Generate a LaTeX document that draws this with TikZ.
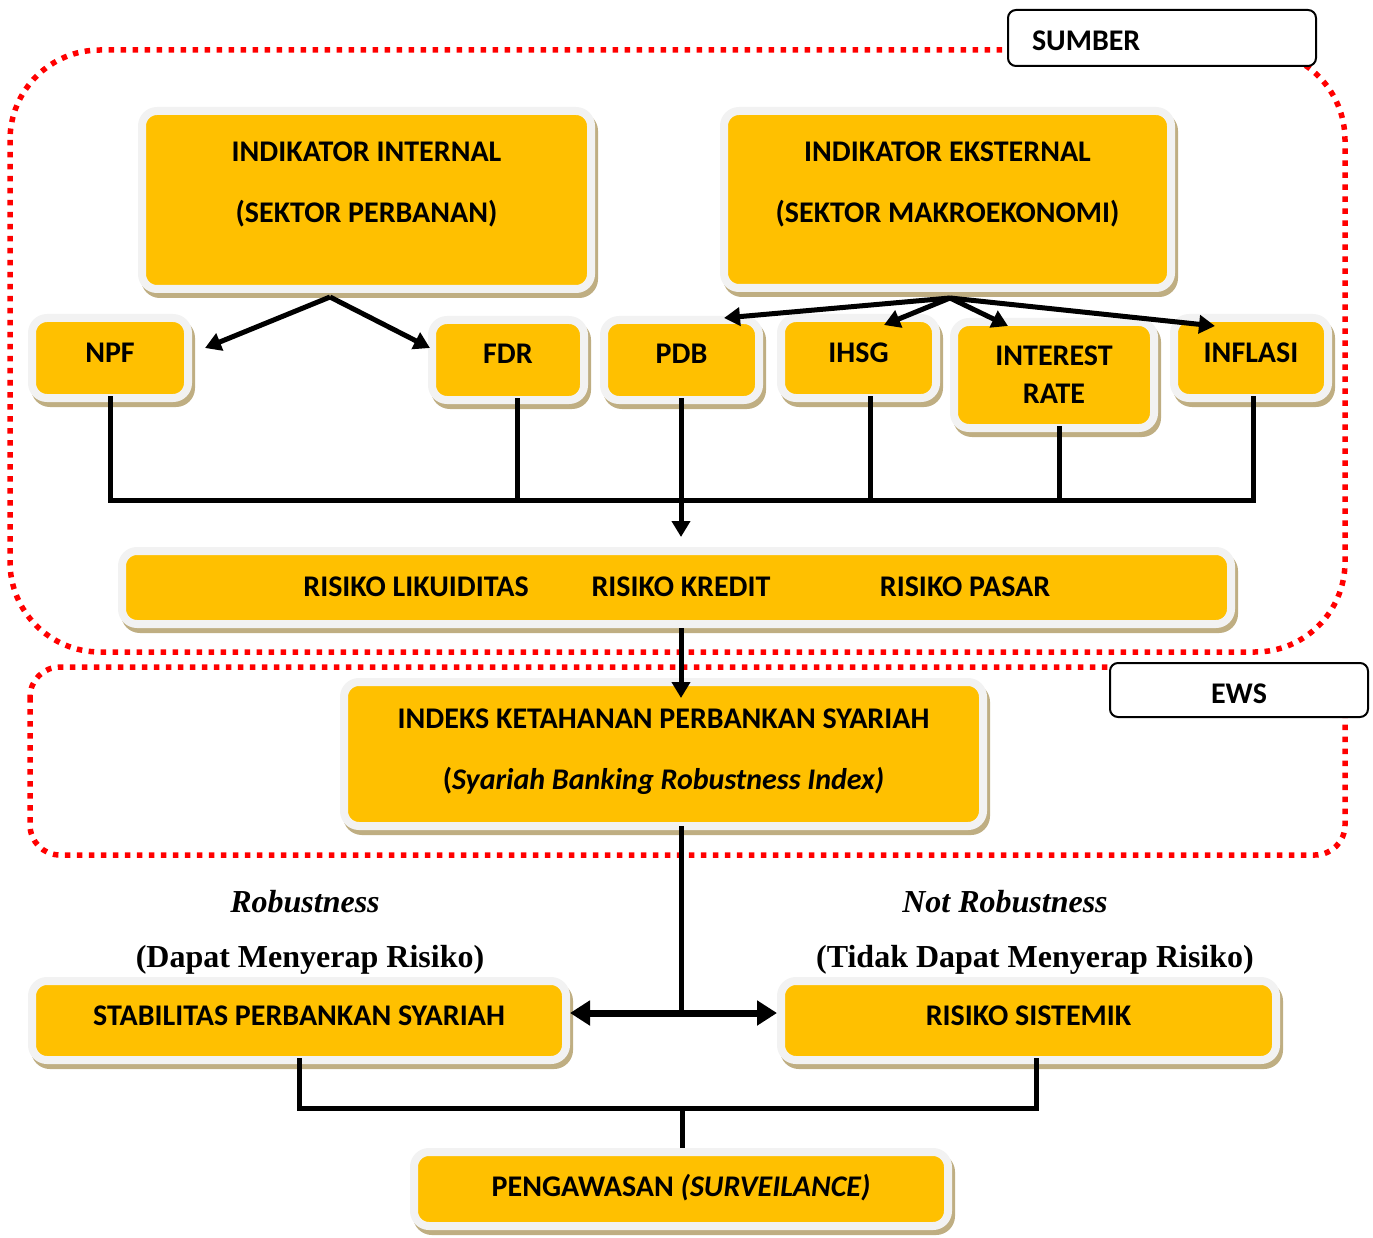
\documentclass[tikz,border=0pt]{standalone}
\usepackage{fontspec}
\setmainfont{Carlito}
\newfontfamily\tms{Liberation Serif}
\usetikzlibrary{arrows.meta,shadows,calc}
\definecolor{byel}{HTML}{FFC000}
\definecolor{bwht}{HTML}{F2F2F2}
\definecolor{btan}{HTML}{BFAE82}
\definecolor{dred}{HTML}{FF0000}
\begin{document}
\begin{tikzpicture}[x=1pt,y=-1pt,
  ybox/.style={rounded corners=15pt, fill=byel, draw=bwht, line width=8pt, inner sep=0pt, align=center,
    font=\fontsize{30}{36}\selectfont\bfseries,
    drop shadow={shadow xshift=3pt, shadow yshift=-5pt, fill=btan, draw=btan, line width=8pt, opacity=1}},
  lift/.style={execute at end node={\rule[-#1pt]{0pt}{#1pt}}},
  sink/.style={execute at begin node={\rule{0pt}{#1pt}}},
  rtext/.style={font=\fontsize{30}{36}\selectfont\bfseries, inner sep=0pt},
  tagbox/.style={draw=black, fill=white, line width=2pt, rounded corners=8pt, inner sep=0pt, font=\fontsize{30}{36}\selectfont\bfseries},
  dotred/.style={draw=dred, line width=5.5pt, dash pattern=on 5.5pt off 6.5pt},
  conn/.style={draw=black, line width=5pt},
  tip/.style={-{Triangle[length=16pt,width=18pt]}},
  bigtip/.style={-{Triangle[length=20pt,width=24pt]}},
  serif/.style={font=\fontsize{32}{38}\selectfont\tms\bfseries, inner sep=0pt}]
\useasboundingbox (0,0) rectangle (1373,1238);

% dotted regions
\draw[dotred, rounded corners=90pt] (10,50) rectangle (1345,652);
\draw[dotred, rounded corners=30pt] (30,667) rectangle (1345,855);

% tag boxes
\node[tagbox, sink=26, minimum width=308pt, minimum height=56pt, text width=260pt, inner xsep=24pt, align=left] (sumber) at (1162,38) {SUMBER};
\node[tagbox, sink=28, minimum width=258pt, minimum height=54pt] (ews) at (1239,690) {EWS};

% boxes
\node[ybox, lift=36, minimum width=449pt, minimum height=178pt] (int) at (366.5,200) {INDIKATOR INTERNAL\\[25pt](SEKTOR PERBANAN)};
\node[ybox, lift=35, minimum width=447pt, minimum height=177pt] (ext) at (947.5,199.5) {INDIKATOR EKSTERNAL\\[25pt](SEKTOR MAKROEKONOMI)};
\node[ybox, lift=10, minimum width=156pt, minimum height=80pt] (npf) at (110,358) {NPF};
\node[ybox, lift=12, minimum width=152pt, minimum height=80pt] (fdr) at (508,360) {FDR};
\node[ybox, lift=12, minimum width=155pt, minimum height=80pt] (pdb) at (681.5,360) {PDB};
\node[ybox, lift=10, minimum width=155pt, minimum height=80pt] (ihsg) at (858.5,358) {IHSG};
\node[ybox, minimum width=200pt, minimum height=106pt] (irate) at (1054,375) {INTEREST\\[2pt]RATE};
\node[ybox, lift=10, minimum width=154pt, minimum height=80pt] (infl) at (1251,358) {INFLASI};
\node[ybox, minimum width=1109pt, minimum height=73pt] (risk) at (676.5,587.5) {};
\node[rtext] (rl) at (416,587) {RISIKO LIKUIDITAS};
\node[rtext] (rk) at (681,587) {RISIKO KREDIT};
\node[rtext] (rp) at (965,587) {RISIKO PASAR};
\node[ybox, lift=9, minimum width=639pt, minimum height=144pt] (idx) at (663.5,754) {INDEKS KETAHANAN PERBANKAN SYARIAH\\[25pt](\textit{Syariah Banking Robustness Index)}};
\node[ybox, lift=9, minimum width=534pt, minimum height=79pt] (stab) at (299,1020.5) {STABILITAS PERBANKAN SYARIAH};
\node[ybox, lift=9, minimum width=495pt, minimum height=79pt] (sist) at (1028.5,1020.5) {RISIKO SISTEMIK};
\node[ybox, lift=7, minimum width=534pt, minimum height=74pt] (peng) at (681,1189) {PENGAWASAN \textit{(SURVEILANCE)}};

% serif labels
\node[serif] (rob) at (305,902) {\itshape Robustness};
\node[serif] (robd) at (310,960) {(Dapat Menyerap Risiko)};
\node[serif] (nrob) at (1005,902) {\itshape Not Robustness};
\node[serif] (nrobd) at (1035,960) {(Tidak Dapat Menyerap Risiko)};

% connectors from indicators
\coordinate (intb) at (330,297);
\coordinate (extb) at (950,298);
\coordinate (npft) at (205,348);
\coordinate (fdrt) at (430,348);
\coordinate (pdbt) at (724,318);
\coordinate (ihsgt) at (884,325);
\coordinate (iratet) at (1008,326);
\coordinate (inflt) at (1215,326);
\draw[conn, tip] (intb) -- (npft);
\draw[conn, tip] (intb) -- (fdrt);
\draw[conn, tip] (extb) -- (pdbt);
\draw[conn, tip] (extb) -- (ihsgt);
\draw[conn, tip] (extb) -- (iratet);
\draw[conn, tip] (extb) -- (inflt);

% bus
\coordinate (bus) at (110,500);
\coordinate (riskt) at (681,537);
\draw[conn] ([yshift=6pt]npf.south) -- (npf.south |- bus) -- ([xshift=2pt]infl.south |- bus) -- ([xshift=2pt,yshift=6pt]infl.south);
\draw[conn] ([xshift=9pt,yshift=6pt]fdr.south) -- ([xshift=9pt]fdr.south |- bus);
\draw[conn] ([xshift=11.5pt,yshift=6pt]ihsg.south) -- ([xshift=11.5pt]ihsg.south |- bus);
\draw[conn] ([xshift=5pt,yshift=6pt]irate.south) -- ([xshift=5pt]irate.south |- bus);
\draw[conn, tip] ([yshift=6pt]pdb.south -| riskt) -- (riskt);

% risk to index
\coordinate (idxt) at (681,698);
\draw[conn, tip] (risk.south -| idxt) -- (idxt);

% index split
\coordinate (split) at (681,1013);
\draw[conn] ([yshift=4pt]idx.south -| split) -- (split);
\draw[conn, line width=7pt, bigtip] (split) -- (stab.east |- split);
\draw[conn, line width=7pt, bigtip] (split) -- (sist.west |- split);

% merge to supervision
\coordinate (merge) at (682,1108);
\draw[conn] ([yshift=6pt]stab.south) -- (stab.south |- merge) -- ([xshift=8pt]sist.south |- merge) -- ([xshift=8pt,yshift=6pt]sist.south);
\draw[conn] (merge) -- (peng.north -| merge);
\end{tikzpicture}
\end{document}
